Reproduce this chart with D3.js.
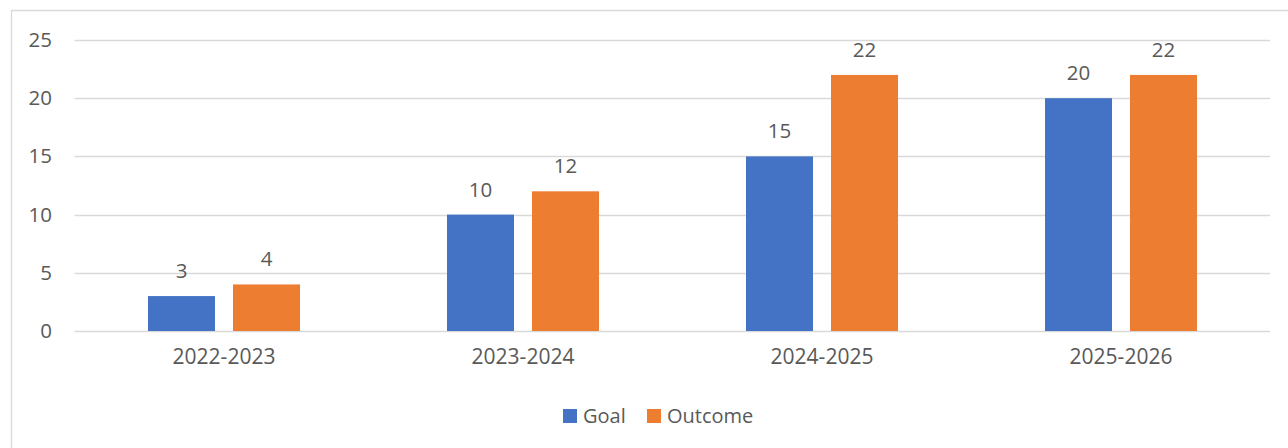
<!DOCTYPE html>
<html>
<head>
<meta charset="utf-8">
<script src="https://cdn.jsdelivr.net/npm/d3@7"></script>
<style>
  html, body { margin: 0; padding: 0; background: #fff; }
  svg { display: block; }
  text { font-family: "Open Sans", "Liberation Sans", sans-serif; fill: #595959; }
</style>
</head>
<body>
<svg id="chart" width="1288" height="448"></svg>
<script>
// Chart data
const categories = ["2022-2023", "2023-2024", "2024-2025", "2025-2026"];
const seriesNames = ["Goal", "Outcome"];
const goalValues = [3, 10, 15, 20];
const outcomeValues = [4, 12, 22, 22];
const yTicks = [0, 5, 10, 15, 20, 25];
const seriesColors = ["#4472C4", "#ED7D31"];

const seriesValues = [goalValues, outcomeValues];
const rows = categories.map((c, i) => ({
  category: c,
  values: seriesNames.map((s, j) => ({ series: s, value: seriesValues[j][i], color: seriesColors[j] }))
}));

const svg = d3.select("#chart");
const W = 1288, H = 448;
const plot = { left: 74.5, right: 1270.5, top: 40, bottom: 331 };

// Chart frame (left and top edges visible)
svg.append("path")
  .attr("d", `M11.5,${H} V10.5 H${W}`)
  .attr("fill", "none")
  .attr("stroke", "#d9d9d9")
  .attr("stroke-width", 1.3);

const x0 = d3.scaleBand()
  .domain(categories)
  .range([plot.left, plot.right])
  .paddingInner(147 / 299)
  .paddingOuter(147 / 299 / 2);

const x1 = d3.scaleBand()
  .domain(seriesNames)
  .range([0, x0.bandwidth()])
  .paddingInner(18 / 85)
  .paddingOuter(0);

const y = d3.scaleLinear().domain([0, 25]).range([plot.bottom, plot.top]);

// Horizontal gridlines
svg.append("g")
  .selectAll("line")
  .data(yTicks)
  .join("line")
  .attr("x1", plot.left)
  .attr("x2", plot.right - 0.5)
  .attr("y1", d => Math.round(y(d)) + 0.5)
  .attr("y2", d => Math.round(y(d)) + 0.5)
  .attr("stroke", "#d9d9d9")
  .attr("stroke-width", 1.5);

// Y axis labels
const yAxis = d3.axisLeft(y).tickValues(yTicks).tickSize(0).tickPadding(0);
const yg = svg.append("g")
  .attr("transform", `translate(52,0)`)
  .call(yAxis);
yg.select(".domain").remove();
yg.selectAll("text")
  .attr("font-size", 20.5)
  .attr("fill", "#595959")
  .style("font-family", '"Open Sans", "Liberation Sans", sans-serif');

// X axis labels
const xAxis = d3.axisBottom(x0).tickSize(0).tickPadding(0);
const xg = svg.append("g")
  .attr("transform", `translate(0,${plot.bottom + 26})`)
  .call(xAxis);
xg.select(".domain").remove();
xg.selectAll("text")
  .attr("font-size", 21)
  .attr("dy", "0.35em")
  .attr("fill", "#595959")
  .style("font-family", '"Open Sans", "Liberation Sans", sans-serif');

// Bars and value labels
const groups = svg.append("g")
  .selectAll("g")
  .data(rows)
  .join("g")
  .attr("transform", d => `translate(${x0(d.category)},0)`);

groups.selectAll("rect")
  .data(d => d.values)
  .join("rect")
  .attr("x", d => x1(d.series))
  .attr("y", d => y(d.value))
  .attr("width", x1.bandwidth())
  .attr("height", d => y(0) - y(d.value))
  .attr("fill", d => d.color);

groups.selectAll("text.val")
  .data(d => d.values)
  .join("text")
  .attr("class", "val")
  .attr("x", d => x1(d.series) + x1.bandwidth() / 2)
  .attr("y", d => y(d.value) - 18)
  .attr("text-anchor", "middle")
  .attr("font-size", 20.5)
  .text(d => d.value);

// Legend
const legend = svg.append("g").attr("transform", "translate(563,409)");
const legendX = [0, 84];
const items = legend.selectAll("g")
  .data(seriesNames)
  .join("g")
  .attr("transform", (d, i) => `translate(${legendX[i]},0)`);
items.append("rect")
  .attr("width", 14)
  .attr("height", 14)
  .attr("fill", (d, i) => seriesColors[i]);
items.append("text")
  .attr("x", 20)
  .attr("y", 7)
  .attr("dy", "0.35em")
  .attr("font-size", 20)
  .text(d => d);
</script>
</body>
</html>
